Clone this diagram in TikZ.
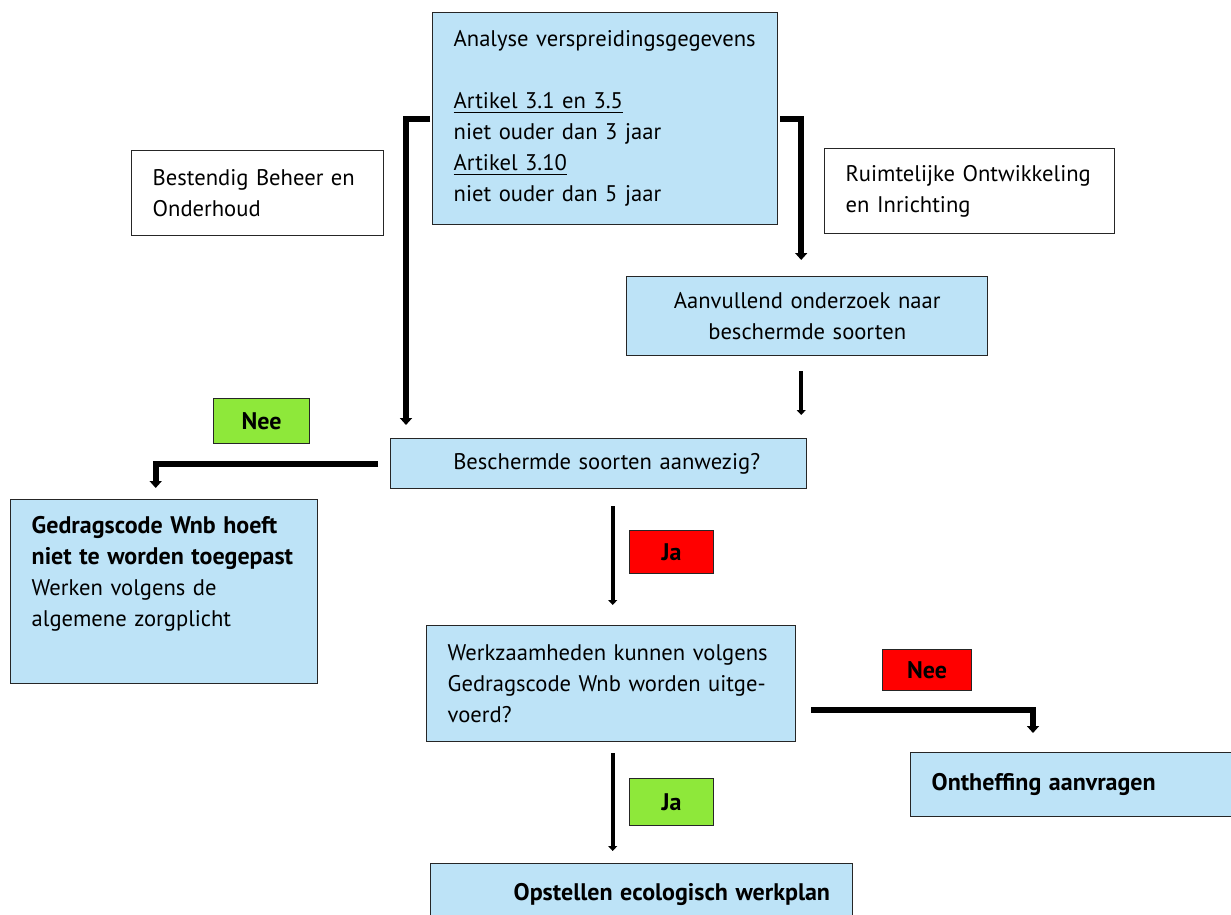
\documentclass[tikz,border=0pt]{standalone}
\usepackage{fontspec}
\setmainfont{PT Sans}
\usetikzlibrary{arrows.meta}
\definecolor{lichtblauw}{HTML}{BDE3F7}
\definecolor{jagroen}{HTML}{8EE83A}
\definecolor{neerood}{HTML}{FF0000}
\newcommand{\vet}[1]{\mbox{\fontsize{12}{15.5}\selectfont\bfseries #1}}
\tikzset{
	vak/.style={draw=black!85, line width=0.7pt, anchor=north west, inner xsep=10.5pt, inner ysep=0pt, align=left, font=\fontsize{11.3}{15.5}\selectfont},
	blauwvak/.style={vak, fill=lichtblauw},
	witvak/.style={vak, fill=white},
	keuze/.style={draw=black!85, line width=0.6pt, anchor=north west, inner sep=0pt, font=\fontsize{12}{13}\selectfont\bfseries},
	pijl/.style={line width=3pt, -{Triangle[length=3.5pt,width=6pt]}},
	dunnepijl/.style={line width=2pt, -{Triangle[length=2.5pt,width=4.5pt]}}
}
\begin{document}
\begin{tikzpicture}[x=0.5pt, y=-0.5pt]
				\clip (0,0) rectangle (1231,915);
				\node[blauwvak, minimum width=172.5pt, minimum height=106pt, text width=151.5pt] (analyse) at (432,12) {Analyse verspreidingsgegevens\\ \mbox{}\\ \underline{Artikel 3.1 en 3.5}\\ niet ouder dan 3 jaar\\ \underline{Artikel 3.10}\\ niet ouder dan 5 jaar};
				\node[witvak, minimum width=126pt, minimum height=42.5pt, text width=105pt] (beheer) at (131,150) {Bestendig Beheer en\\ Onderhoud};
				\node[witvak, minimum width=145pt, minimum height=42.5pt, text width=124pt] (ruimte) at (824,148) {Ruimtelijke Ontwikkeling\\ en Inrichting};
				\node[blauwvak, align=center, minimum width=180.5pt, minimum height=39.5pt, text width=159.5pt] (aanvullend) at (626,276) {Aanvullend onderzoek naar\\ beschermde soorten};
				\node[blauwvak, align=center, minimum width=208pt, minimum height=25pt, text width=187pt] (vraag) at (390,438) {\hspace*{8pt}Beschermde soorten aanwezig?};
				\node[blauwvak, minimum width=153.5pt, minimum height=92pt, text width=132.5pt] (gedrag) at (10,499) {\vet{Gedragscode Wnb hoeft}\\ \vet{niet te worden toegepast}\\ Werken volgens de\\ algemene zorgplicht\\[5pt] \mbox{}};
				\node[blauwvak, minimum width=184.5pt, minimum height=58pt, text width=163.5pt] (werk) at (426,625) {\mbox{Werkzaamheden kunnen volgens}\\ \mbox{Gedragscode Wnb worden uitge-}\\ voerd?};
				\node[blauwvak, minimum width=170pt, minimum height=32pt, text width=149pt] (ontheffing) at (910,752) {\vet{Ontheffing aanvragen}};
				\node[blauwvak, minimum width=211pt, minimum height=31pt, text width=190pt] (plan) at (430,863) {\hspace*{31pt}\vet{Opstellen ecologisch werkplan}};
				\node[keuze, fill=jagroen, minimum width=48pt, minimum height=22.5pt] (neelinks) at (213,398) {Nee};
				\node[keuze, fill=neerood, minimum width=42pt, minimum height=21.5pt] (jaboven) at (629,530) {Ja};
				\node[keuze, fill=neerood, minimum width=44.5pt, minimum height=20.5pt] (neerechts) at (882,649) {Nee};
				\node[keuze, fill=jagroen, minimum width=42pt, minimum height=23.5pt] (jaonder) at (629,778) {Ja};
				\draw[pijl, shorten <=1pt, shorten >=6.5pt] (analyse.west) -| ([xshift=8pt]vraag.north west);
				\draw[pijl, shorten <=1pt, shorten >=8pt] (analyse.east) -| ([xshift=-3pt]aanvullend.north);
				\draw[dunnepijl, shorten <=7.5pt, shorten >=11.5pt] ([xshift=-3pt]aanvullend.south) -- ([xshift=-3pt]aanvullend.south |- vraag.north);
				\draw[pijl, shorten <=6pt, shorten >=5.5pt] (vraag.west) -| ([xshift=-4.25pt]gedrag.north);
				\draw[dunnepijl, shorten <=8.5pt, shorten >=10pt] ([xshift=7pt]vraag.south) -- ([xshift=7pt]vraag.south |- werk.north);
				\draw[pijl, shorten <=7.5pt, shorten >=9.5pt] ([yshift=-13pt]werk.east) -| ([xshift=61.5pt]ontheffing.north west);
				\draw[dunnepijl, shorten <=5.5pt, shorten >=6pt] ([xshift=0.75pt]werk.south) -- ([xshift=0.75pt]werk.south |- plan.north);
			\end{tikzpicture}
\end{document}
